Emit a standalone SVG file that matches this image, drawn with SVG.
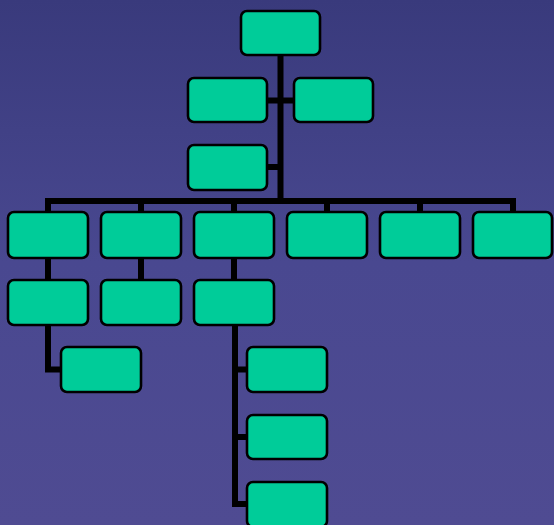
<svg xmlns="http://www.w3.org/2000/svg" width="554" height="525" viewBox="0 0 554 525">
<defs>
<linearGradient id="bg" x1="0" y1="0" x2="0" y2="1">
<stop offset="0" stop-color="#393a7c"/>
<stop offset="0.5" stop-color="#494890"/>
<stop offset="1" stop-color="#4f4b92"/>
</linearGradient>
<style>
.n{fill:#00cc99;stroke:#000;stroke-width:2.6}
.c{fill:none;stroke:#000;stroke-width:6;stroke-linejoin:miter;stroke-linecap:butt}
</style>
</defs>
<rect width="554" height="525" fill="url(#bg)"/>
<g id="connectors">
<path class="c" d="M280.5 55V204"/>
<path class="c" d="M267 100.5H293"/>
<path class="c" d="M267 167H280.5"/>
<path class="c" d="M48 212V201H513V212"/>
<path class="c" d="M141 201V212M234 201V212M327 201V212M420 201V212"/>
<path class="c" d="M48 258V279M141 258V279M234 258V279"/>
<path class="c" d="M48 325V369.5H61"/>
<path class="c" d="M235 325V504H247M235 369.5H247M235 437H247"/>
</g>
<g id="n0"><rect class="n" x="241" y="11" width="79" height="44" rx="6"/></g>
<g id="n1"><rect class="n" x="188" y="78" width="79" height="44" rx="6"/></g>
<g id="n2"><rect class="n" x="294" y="78" width="79" height="44" rx="6"/></g>
<g id="n3"><rect class="n" x="188" y="145" width="79" height="45" rx="6"/></g>
<g id="n4"><rect class="n" x="8" y="212" width="80" height="46" rx="6"/></g>
<g id="n5"><rect class="n" x="101" y="212" width="80" height="46" rx="6"/></g>
<g id="n6"><rect class="n" x="194" y="212" width="80" height="46" rx="6"/></g>
<g id="n7"><rect class="n" x="287" y="212" width="80" height="46" rx="6"/></g>
<g id="n8"><rect class="n" x="380" y="212" width="80" height="46" rx="6"/></g>
<g id="n9"><rect class="n" x="473" y="212" width="79" height="46" rx="6"/></g>
<g id="n10"><rect class="n" x="8" y="280" width="80" height="45" rx="6"/></g>
<g id="n11"><rect class="n" x="101" y="280" width="80" height="45" rx="6"/></g>
<g id="n12"><rect class="n" x="194" y="280" width="80" height="45" rx="6"/></g>
<g id="n13"><rect class="n" x="61" y="347" width="80" height="45" rx="6"/></g>
<g id="n14"><rect class="n" x="247" y="347" width="80" height="45" rx="6"/></g>
<g id="n15"><rect class="n" x="247" y="415" width="80" height="44" rx="6"/></g>
<g id="n16"><rect class="n" x="247" y="482" width="80" height="45" rx="6"/></g>
</svg>
